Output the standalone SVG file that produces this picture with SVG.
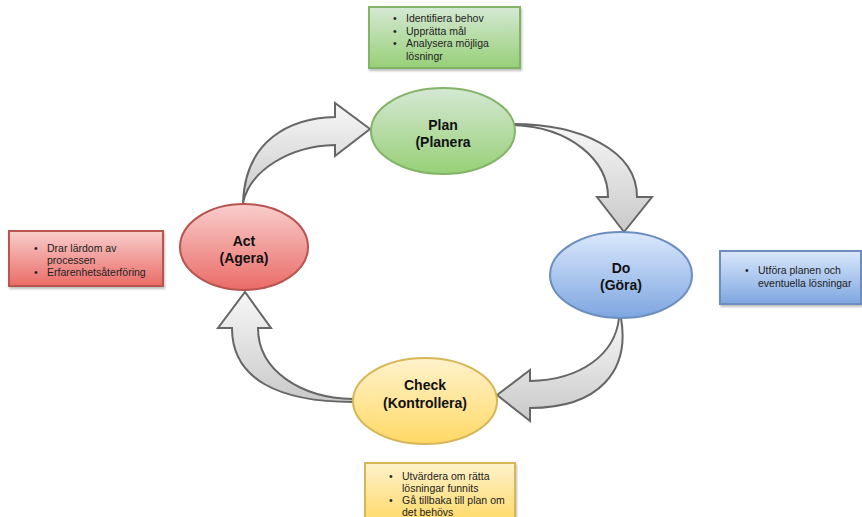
<svg xmlns="http://www.w3.org/2000/svg" width="862" height="517" viewBox="0 0 862 517">
  <style>
    .node-label { font-family: "Liberation Sans", Arial, sans-serif; font-size: 14px; font-weight: bold; fill: #111; text-anchor: middle; }
    .note { font-family: "Liberation Sans", Arial, sans-serif; font-size: 10.5px; fill: #222; }
    .cycle-arrow { stroke: #666; stroke-width: 2; stroke-linejoin: miter; fill: url(#arrowFill); }
    .ell { stroke-width: 2; }
    .box { stroke-width: 2; filter: url(#shadow); }
  </style>
  <defs>
    <linearGradient id="arrowFill" x1="0" y1="0" x2="0" y2="1">
      <stop offset="0" stop-color="#f7f7f7"/>
      <stop offset="1" stop-color="#c9c9c9"/>
    </linearGradient>
    <linearGradient id="greenFill" x1="0" y1="0" x2="0" y2="1">
      <stop offset="0" stop-color="#d5e8d4"/>
      <stop offset="1" stop-color="#97d077"/>
    </linearGradient>
    <linearGradient id="redFill" x1="0" y1="0" x2="0" y2="1">
      <stop offset="0" stop-color="#f8cecc"/>
      <stop offset="1" stop-color="#ea6b66"/>
    </linearGradient>
    <linearGradient id="blueFill" x1="0" y1="0" x2="0" y2="1">
      <stop offset="0" stop-color="#dae8fc"/>
      <stop offset="1" stop-color="#7ea6e0"/>
    </linearGradient>
    <linearGradient id="yellowFill" x1="0" y1="0" x2="0" y2="1">
      <stop offset="0" stop-color="#fff2cc"/>
      <stop offset="1" stop-color="#ffd966"/>
    </linearGradient>
    <filter id="shadow" x="-10%" y="-10%" width="130%" height="140%">
      <feDropShadow dx="1" dy="2" stdDeviation="1.2" flood-color="#000" flood-opacity="0.25"/>
    </filter>
  </defs>

  <rect width="862" height="517" fill="#ffffff"/>

  <!-- curved block arrows of the cycle -->
  <g id="connectors">
    <path id="act-to-plan" class="cycle-arrow" d="M 243,203 C 245,140 290,118 335,117 L 335,103 L 370,129 L 335,156 L 335,145 C 290,146 250,170 243,203 Z"/>
    <path id="plan-to-do" class="cycle-arrow" d="M 513,124 C 580,124 637,150 637,197 L 652,197 L 624,232 L 597,197 L 608,197 C 608,160 570,127 513,125 Z"/>
    <path id="do-to-check" class="cycle-arrow" d="M 621,318 C 630,370 600,408 530,408 L 530,421 L 497,395 L 530,370 L 530,381 C 580,380 615,355 619,318 Z"/>
    <path id="check-to-act" class="cycle-arrow" d="M 353,402 C 280,402 232,380 232,328 L 218,328 L 245,292 L 271,328 L 258,328 C 258,370 300,398 353,399 Z"/>
  </g>

  <!-- phase nodes -->
  <g id="plan">
    <ellipse class="ell" cx="443" cy="131" rx="72" ry="43" fill="url(#greenFill)" stroke="#82b366"/>
    <text class="node-label" x="443" y="130">Plan</text>
    <text class="node-label" x="443" y="147">(Planera</text>
  </g>
  <g id="do">
    <ellipse class="ell" cx="621" cy="275" rx="71" ry="43" fill="url(#blueFill)" stroke="#6c8ebf"/>
    <text class="node-label" x="621" y="273">Do</text>
    <text class="node-label" x="621" y="290">(Göra)</text>
  </g>
  <g id="check">
    <ellipse class="ell" cx="425" cy="401" rx="72" ry="43" fill="url(#yellowFill)" stroke="#d6b656"/>
    <text class="node-label" x="425" y="390">Check</text>
    <text class="node-label" x="425" y="408">(Kontrollera)</text>
  </g>
  <g id="act">
    <ellipse class="ell" cx="244" cy="247" rx="64" ry="43" fill="url(#redFill)" stroke="#b85450"/>
    <text class="node-label" x="244" y="246">Act</text>
    <text class="node-label" x="244" y="263">(Agera)</text>
  </g>

  <!-- notes -->
  <g id="plan-note">
    <rect class="box" x="369" y="7" width="151" height="61" fill="url(#greenFill)" stroke="#82b366"/>
    <text class="note" x="393" y="22">•</text>
    <text class="note" x="406" y="22">Identifiera behov</text>
    <text class="note" x="393" y="35">•</text>
    <text class="note" x="406" y="35">Upprätta mål</text>
    <text class="note" x="393" y="47">•</text>
    <text class="note" x="406" y="47">Analysera möjliga</text>
    <text class="note" x="406" y="60">lösningr</text>
  </g>
  <g id="act-note">
    <rect class="box" x="9" y="231" width="154" height="55" fill="url(#redFill)" stroke="#b85450"/>
    <text class="note" x="34" y="252">•</text>
    <text class="note" x="47" y="252">Drar lärdom av</text>
    <text class="note" x="47" y="264">processen</text>
    <text class="note" x="34" y="276">•</text>
    <text class="note" x="47" y="276">Erfarenhetsåterföring</text>
  </g>
  <g id="do-note">
    <rect class="box" x="720" y="251" width="141" height="53" fill="url(#blueFill)" stroke="#6c8ebf"/>
    <text class="note" x="745" y="274">•</text>
    <text class="note" x="758" y="274">Utföra planen och</text>
    <text class="note" x="758" y="287">eventuella lösningar</text>
  </g>
  <g id="check-note">
    <rect class="box" x="365" y="463" width="150" height="60" fill="url(#yellowFill)" stroke="#d6b656"/>
    <text class="note" x="389" y="480">•</text>
    <text class="note" x="402" y="480">Utvärdera om rätta</text>
    <text class="note" x="402" y="492">lösningar funnits</text>
    <text class="note" x="389" y="504">•</text>
    <text class="note" x="402" y="504">Gå tillbaka till plan om</text>
    <text class="note" x="402" y="516">det behövs</text>
  </g>
</svg>
